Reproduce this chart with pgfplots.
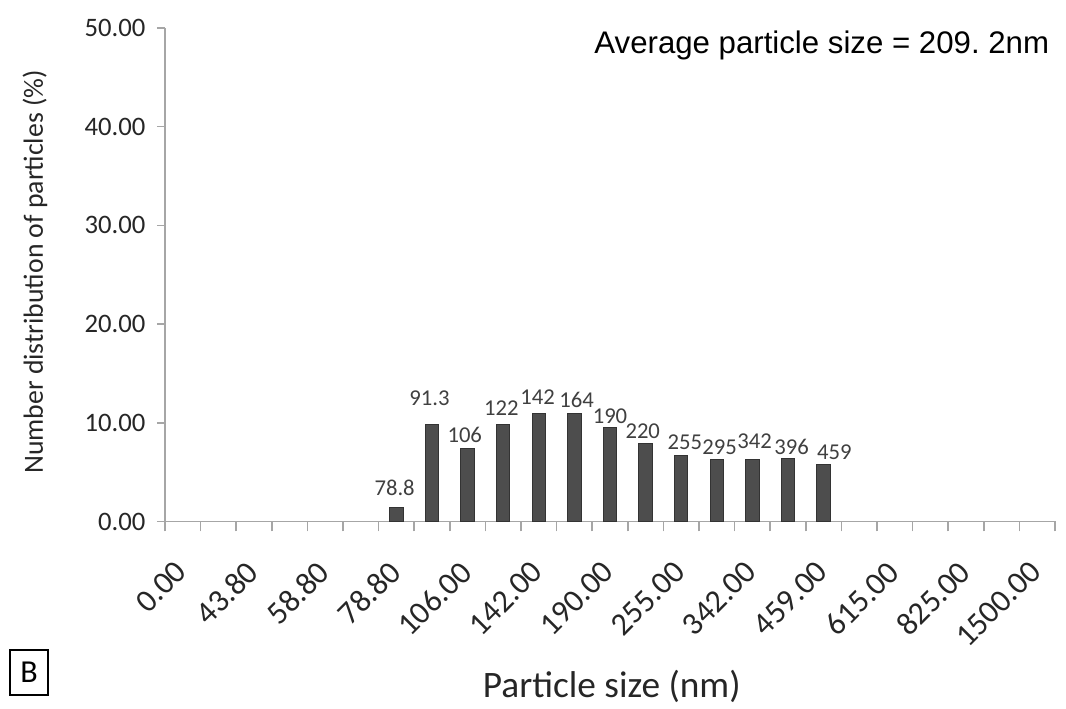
\documentclass[border=0pt]{standalone}
\usepackage{pgfplots}
\usepackage{pgfplotstable}
\pgfplotsset{compat=1.18}
\usepackage{fontspec}
\setmainfont{Carlito}
\newfontfamily\arialf{Liberation Sans}
\definecolor{barfill}{HTML}{4D4D4D}
\definecolor{baredge}{HTML}{333333}
\definecolor{axisgray}{HTML}{A6A6A6}
\definecolor{lbl}{HTML}{404040}
\definecolor{txt}{HTML}{262626}

\pgfplotstableread{
x y
6.5 1.45
7.5 9.86
8.5 7.35
9.5 9.86
10.5 10.93
11.5 10.93
12.5 9.51
13.5 7.93
14.5 6.64
15.5 6.24
16.5 6.24
17.5 6.41
18.5 5.80
}\bars

\pgfplotstableread{
x y label
6.45 3.4 78.8
7.43 12.5 91.3
8.42 8.77 106
9.45 11.5 122
10.47 12.6 142
11.56 12.3 164
12.5 10.7 190
13.42 9.17 220
14.6 8.06 255
15.58 7.56 295
16.56 8.16 342
17.6 7.56 396
18.8 7.05 459
}\labels

\begin{document}
\frenchspacing
\begin{tikzpicture}
\useasboundingbox (-61.875pt,-70.3125pt) rectangle (337.875pt,195.5625pt);
\begin{axis}[
  at={(0,0)}, anchor=south west,
  scale only axis, width=333.75pt, height=185.06pt,
  xmin=0, xmax=25, ymin=0, ymax=50,
  axis x line*=bottom, axis y line*=left,
  axis line style={draw=axisgray, line width=0.6pt, -},
  tick align=outside,
  tick style={draw=axisgray, line width=0.6pt},
  major tick length=3pt,
  minor tick length=3.75pt,
  xtick={0.5,2.5,...,24.5},
  xticklabels={0.00,43.80,58.80,78.80,106.00,142.00,190.00,255.00,342.00,459.00,615.00,825.00,1500.00},
  major x tick style={draw=none},
  minor xtick={0,1,...,25},
  xticklabel style={xshift=-3.5pt, yshift=-9.5pt, rotate=45, anchor=north east, font=\fontsize{12}{14}\selectfont, text=txt, inner sep=1pt},
  ytick={0,10,...,50},
  yticklabel style={/pgf/number format/.cd, fixed, fixed zerofill, precision=2, /tikz/.cd, xshift=-0.8pt, font=\fontsize{10}{12}\selectfont, text=txt},
  /pgf/number format/assume math mode=true,
  ylabel={Number distribution of particles (\%)},
  ylabel style={at={(axis description cs:-0.146,0.5056)}, anchor=center, rotate=0, font=\fontsize{10.4}{12}\selectfont, text=txt},
  xlabel={Particle size (nm)},
  xlabel style={at={(axis description cs:0.502,-0.335)}, anchor=center, font=\fontsize{14}{16}\selectfont, text=txt},
  clip=false,
]
\addplot[ybar, bar width=5pt, fill=barfill, draw=baredge, line width=0.4pt] table[x=x, y=y] {\bars};
\addplot[draw=none, mark=none, nodes near coords, point meta=explicit symbolic,
  nodes near coords style={anchor=center, inner sep=0pt, font=\fontsize{8.5}{10}\selectfont, text=lbl}]
  table[x=x, y=y, meta=label] {\labels};
\node[anchor=east, inner sep=0pt, font=\arialf\fontsize{11.7}{14}\selectfont, text=black] at (axis description cs:0.994,0.9655) {Average particle size = 209. 2nm};
\end{axis}
\node[draw=black, line width=0.6pt, minimum width=14.25pt, minimum height=16.9pt, inner sep=0pt, font=\fontsize{12}{14}\selectfont] at (-51pt,-56.6pt) {B};
\end{tikzpicture}
\end{document}
